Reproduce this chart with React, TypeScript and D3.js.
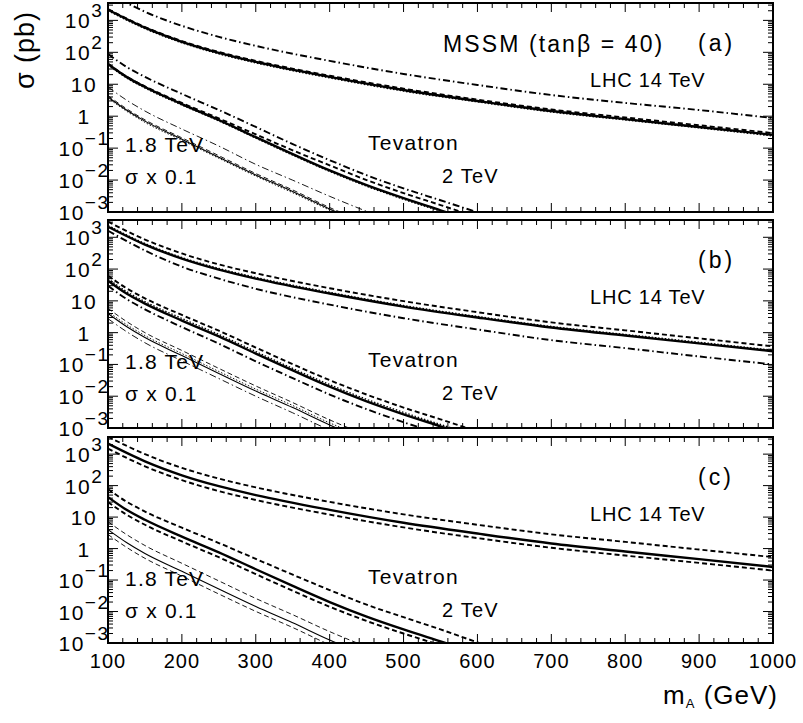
import React from 'react';
import * as d3 from 'd3';

// ---------- data (sigma in pb vs m_A in GeV) ----------
const massLHC = [100, 150, 200, 250, 300, 400, 500, 600, 700, 800, 900, 1000];
const lhcSolid = [2150, 590, 213, 96, 50, 17, 6.6, 3.0, 1.45, 0.81, 0.46, 0.26];
const lhcA_dashed = [2250, 620, 225, 102, 54, 18.5, 7.3, 3.3, 1.62, 0.91, 0.52, 0.295];
const lhcA_dotted = [2000, 550, 198, 89, 46.5, 15.8, 6.1, 2.8, 1.35, 0.76, 0.43, 0.24];
const lhcA_dashdot = [7300, 1860, 676, 305, 159, 54, 21, 9.5, 4.6, 2.6, 1.56, 0.87];
const lhcB_dashed = [3100, 850, 310, 140, 74, 25, 9.8, 4.4, 2.1, 1.18, 0.66, 0.37];
const lhcB_dotted = [2350, 640, 232, 105, 55, 18.6, 7.2, 3.25, 1.57, 0.88, 0.5, 0.28];
const lhcB_dashdot = [1610, 383, 119, 50, 24, 7.6, 2.85, 1.26, 0.58, 0.326, 0.178, 0.1];
const lhcC_dashedUp = [3570, 1000, 366, 167, 88, 30.4, 12.2, 5.7, 2.83, 1.63, 0.93, 0.535];
const lhcC_dashedLow = [1500, 410, 149, 67, 35, 12, 4.7, 2.15, 1.06, 0.6, 0.35, 0.2];

const massTev2 = [100, 125, 150, 200, 250, 300, 350, 400, 450, 500, 550, 600, 650];
const tev2Solid = [43, 17, 8.2, 2.4, 0.76, 0.22, 0.065, 0.02, 0.0069, 0.0027, 0.00113, 0.00047, 0.0002];
const tev2A_dashed = [44, 17.5, 8.6, 2.6, 0.85, 0.27, 0.085, 0.029, 0.01, 0.0039, 0.00165, 0.00068, 0.00029];
const tev2A_dotted = [40, 15.8, 7.6, 2.23, 0.71, 0.205, 0.06, 0.0186, 0.0064, 0.0025, 0.00105, 0.00044, 0.00019];
const tev2A_dashdot = [89, 35, 17, 5.0, 1.56, 0.46, 0.134, 0.042, 0.0142, 0.0055, 0.00233, 0.00098, 0.00042];
const tev2B_dashed = [62, 25, 12, 3.6, 1.15, 0.34, 0.102, 0.032, 0.0113, 0.0044, 0.00187, 0.00078, 0.00033];
const tev2B_dotted = [50, 19.7, 9.5, 2.8, 0.88, 0.255, 0.075, 0.0232, 0.008, 0.0031, 0.0013, 0.00055, 0.00023];
const tev2B_dashdot = [30, 11.5, 5.4, 1.5, 0.45, 0.125, 0.037, 0.0113, 0.0039, 0.00152, 0.00064, 0.00027, 0.00011];
const tev2C_dashedUp = [77, 31, 15, 4.6, 1.5, 0.47, 0.148, 0.048, 0.0165, 0.0066, 0.0027, 0.00105, 0.00044];
const tev2C_dashedLow = [30, 12, 5.7, 1.68, 0.53, 0.154, 0.0455, 0.0142, 0.005, 0.002, 0.00085, 0.00035, 0.00015];

const massTev18 = [100, 125, 150, 200, 250, 300, 350, 400, 450, 500];
const tev18Solid = [4.0, 1.56, 0.7, 0.19, 0.052, 0.0145, 0.0044, 0.00125, 0.00042, 0.00015];
const tev18A_dashed = [4.4, 1.72, 0.77, 0.21, 0.058, 0.016, 0.0049, 0.00138, 0.00046, 0.000165];
const tev18A_dotted = [3.7, 1.44, 0.64, 0.175, 0.048, 0.0133, 0.004, 0.00115, 0.00039, 0.00014];
const tev18A_dashdot = [8.2, 3.2, 1.45, 0.395, 0.116, 0.031, 0.0099, 0.0031, 0.00105, 0.00038];
const tev18B_dashed = [5.8, 2.25, 1.0, 0.275, 0.075, 0.021, 0.0063, 0.0018, 0.0006, 0.00022];
const tev18B_dotted = [4.6, 1.8, 0.81, 0.22, 0.06, 0.0168, 0.0051, 0.00145, 0.00049, 0.00017];
const tev18B_dashdot = [2.75, 1.08, 0.48, 0.13, 0.036, 0.01, 0.003, 0.00086, 0.00029, 0.0001];
const tev18C_dashedUp = [7.1, 2.8, 1.25, 0.34, 0.094, 0.026, 0.0079, 0.0023, 0.00076, 0.00027];
const tev18C_dashedLow = [2.8, 1.1, 0.49, 0.133, 0.036, 0.0101, 0.0031, 0.00088, 0.0003, 0.0001];

const xTicks = [100, 200, 300, 400, 500, 600, 700, 800, 900, 1000];
const yDecades = [-3, -2, -1, 0, 1, 2, 3];
const panelLetters = ['(a)', '(b)', '(c)'];

// ---------- layout ----------
const W = 803, H = 723;
const X0 = 108, X1 = 773;
const panelBoxes = [
  { top: 3, bottom: 212 },
  { top: 220, bottom: 428 },
  { top: 437, bottom: 643 },
];
const FONT = "'Liberation Sans', Arial, Helvetica, sans-serif";

type Style = 'solid' | 'dashed' | 'dotted' | 'dashdot';
const dashOf: Record<Style, string | undefined> = {
  solid: undefined,
  dashed: '5,3',
  dotted: '1.5,1.8',
  dashdot: '7,3,1.5,3',
};

interface Curve { m: number[]; v: number[]; style: Style; w: number; }

const panelCurves: Curve[][] = [
  [
    { m: massLHC, v: lhcA_dashdot, style: 'dashdot', w: 1.9 },
    { m: massLHC, v: lhcA_dotted, style: 'dotted', w: 1.3 },
    { m: massLHC, v: lhcA_dashed, style: 'dashed', w: 1.9 },
    { m: massLHC, v: lhcSolid, style: 'solid', w: 2.4 },
    { m: massTev2, v: tev2A_dashdot, style: 'dashdot', w: 1.9 },
    { m: massTev2, v: tev2A_dotted, style: 'dotted', w: 1.3 },
    { m: massTev2, v: tev2A_dashed, style: 'dashed', w: 1.9 },
    { m: massTev2, v: tev2Solid, style: 'solid', w: 2.4 },
    { m: massTev18, v: tev18A_dashdot, style: 'dashdot', w: 0.9 },
    { m: massTev18, v: tev18A_dotted, style: 'dotted', w: 0.9 },
    { m: massTev18, v: tev18A_dashed, style: 'dashed', w: 0.9 },
    { m: massTev18, v: tev18Solid, style: 'solid', w: 1.1 },
  ],
  [
    { m: massLHC, v: lhcB_dashdot, style: 'dashdot', w: 1.9 },
    { m: massLHC, v: lhcB_dotted, style: 'dotted', w: 1.3 },
    { m: massLHC, v: lhcB_dashed, style: 'dashed', w: 1.9 },
    { m: massLHC, v: lhcSolid, style: 'solid', w: 2.4 },
    { m: massTev2, v: tev2B_dashdot, style: 'dashdot', w: 1.9 },
    { m: massTev2, v: tev2B_dotted, style: 'dotted', w: 1.3 },
    { m: massTev2, v: tev2B_dashed, style: 'dashed', w: 1.9 },
    { m: massTev2, v: tev2Solid, style: 'solid', w: 2.4 },
    { m: massTev18, v: tev18B_dashdot, style: 'dashdot', w: 0.9 },
    { m: massTev18, v: tev18B_dotted, style: 'dotted', w: 0.9 },
    { m: massTev18, v: tev18B_dashed, style: 'dashed', w: 0.9 },
    { m: massTev18, v: tev18Solid, style: 'solid', w: 1.1 },
  ],
  [
    { m: massLHC, v: lhcC_dashedUp, style: 'dashed', w: 1.9 },
    { m: massLHC, v: lhcC_dashedLow, style: 'dashed', w: 1.9 },
    { m: massLHC, v: lhcSolid, style: 'solid', w: 2.4 },
    { m: massTev2, v: tev2C_dashedUp, style: 'dashed', w: 1.9 },
    { m: massTev2, v: tev2C_dashedLow, style: 'dashed', w: 1.9 },
    { m: massTev2, v: tev2Solid, style: 'solid', w: 2.4 },
    { m: massTev18, v: tev18C_dashedUp, style: 'dashed', w: 0.9 },
    { m: massTev18, v: tev18C_dashedLow, style: 'dashed', w: 0.9 },
    { m: massTev18, v: tev18Solid, style: 'solid', w: 1.1 },
  ],
];

function supLabel(d: number) {
  if (d === 0) return { base: '1', sup: '' };
  if (d === 1) return { base: '10', sup: '' };
  return { base: '10', sup: d < 0 ? '\u2212' + Math.abs(d) : String(d) };
}

export default function App() {
  const x = d3.scaleLinear().domain([100, 1000]).range([X0, X1]);
  const xMinor = d3.range(100, 1001, 20);

  return (
    <div style={{ position: 'absolute', left: 0, top: 0 }}>
      <svg width={W} height={H} viewBox={`0 0 ${W} ${H}`} style={{ display: 'block', background: '#fff' }} fontFamily={FONT}>
        <rect x={0} y={0} width={W} height={H} fill="#fff" />
        <defs>
          {panelBoxes.map((p, i) => (
            <clipPath id={`clip${i}`} key={i}>
              <rect x={X0} y={p.top} width={X1 - X0} height={p.bottom - p.top} />
            </clipPath>
          ))}
        </defs>
        {panelBoxes.map((p, pi) => {
          const y = d3.scaleLog().domain([1e-3, 3500]).range([p.bottom, p.top]);
          const line = d3.line<[number, number]>()
            .x(d => x(d[0]))
            .y(d => y(d[1]))
            .curve(d3.curveMonotoneX);
          const yMinor: number[] = [];
          for (let dd = -3; dd <= 3; dd++) {
            for (let k = 2; k <= 9; k++) {
              const v = k * Math.pow(10, dd);
              if (v <= 3500) yMinor.push(v);
            }
          }
          const t = p.top;
          return (
            <g key={pi}>
              <g clipPath={`url(#clip${pi})`}>
                {panelCurves[pi].map((c, ci) => (
                  <path key={ci}
                    d={line(c.m.map((m, k) => [m, c.v[k]] as [number, number])) || ''}
                    fill="none" stroke="#000" strokeWidth={c.w}
                    strokeDasharray={dashOf[c.style]} />
                ))}
              </g>
              {/* x ticks top & bottom */}
              {xMinor.map(m => {
                const major = m % 100 === 0;
                const L = major ? 9 : 5;
                return (
                  <g key={m}>
                    <line x1={x(m)} x2={x(m)} y1={p.bottom} y2={p.bottom - L} stroke="#000" strokeWidth={1} />
                    <line x1={x(m)} x2={x(m)} y1={p.top} y2={p.top + L} stroke="#000" strokeWidth={1} />
                  </g>
                );
              })}
              {/* y ticks left & right */}
              {yDecades.map(d => {
                const yy = y(Math.pow(10, d));
                return (
                  <g key={'M' + d}>
                    <line x1={X0} x2={X0 + 10} y1={yy} y2={yy} stroke="#000" strokeWidth={1} />
                    <line x1={X1} x2={X1 - 10} y1={yy} y2={yy} stroke="#000" strokeWidth={1} />
                  </g>
                );
              })}
              {yMinor.map((v, k) => {
                const yy = y(v);
                return (
                  <g key={'m' + k}>
                    <line x1={X0} x2={X0 + 5} y1={yy} y2={yy} stroke="#000" strokeWidth={1} />
                    <line x1={X1} x2={X1 - 5} y1={yy} y2={yy} stroke="#000" strokeWidth={1} />
                  </g>
                );
              })}
              <rect x={X0} y={p.top} width={X1 - X0} height={p.bottom - p.top} fill="none" stroke="#000" strokeWidth={2} />
              {/* y tick labels */}
              {yDecades.map(d => {
                const yy = y(Math.pow(10, d));
                const lab = supLabel(d);
                return (
                  <text key={'l' + d} x={84} y={yy + 8} fontSize={21} letterSpacing={1.5} textAnchor="middle" fill="#000">
                    {lab.base}
                    {lab.sup && <tspan dy={-11} fontSize={19}>{lab.sup}</tspan>}
                  </text>
                );
              })}
              {/* annotations */}
              <text x={698} y={t + 48} fontSize={23} letterSpacing={3} fill="#000">{panelLetters[pi]}</text>
              <text x={590} y={t + 84} fontSize={20} letterSpacing={0.8} fill="#000">LHC 14 TeV</text>
              <text x={368} y={t + 147} fontSize={21} letterSpacing={1.3} fill="#000">Tevatron</text>
              <text x={442} y={t + 180} fontSize={20} letterSpacing={1.2} fill="#000">2 TeV</text>
              <text x={125} y={t + 149} fontSize={21} letterSpacing={1.2} fill="#000">1.8 TeV</text>
              <text x={125} y={t + 181} fontSize={21} letterSpacing={1.2} fill="#000">{'\u03c3 x 0.1'}</text>
              {pi === 0 && (
                <text x={443} y={t + 49} fontSize={23} letterSpacing={2.1} fill="#000">{'MSSM (tan\u03b2 = 40)'}</text>
              )}
            </g>
          );
        })}
        {/* x tick labels */}
        {xTicks.map(m => (
          <text key={m} x={x(m)} y={668} fontSize={20} letterSpacing={1} textAnchor="middle" fill="#000">{m}</text>
        ))}
        {/* axis titles */}
        <text x={778} y={704} fontSize={26} letterSpacing={1} textAnchor="end" fill="#000">
          m<tspan fontSize={13} dy={4}>A</tspan><tspan dy={-4}>{' (GeV)'}</tspan>
        </text>
        <text transform="translate(34,50) rotate(-90)" fontSize={27} letterSpacing={1} textAnchor="middle" fill="#000">{'\u03c3 (pb)'}</text>
      </svg>
    </div>
  );
}
